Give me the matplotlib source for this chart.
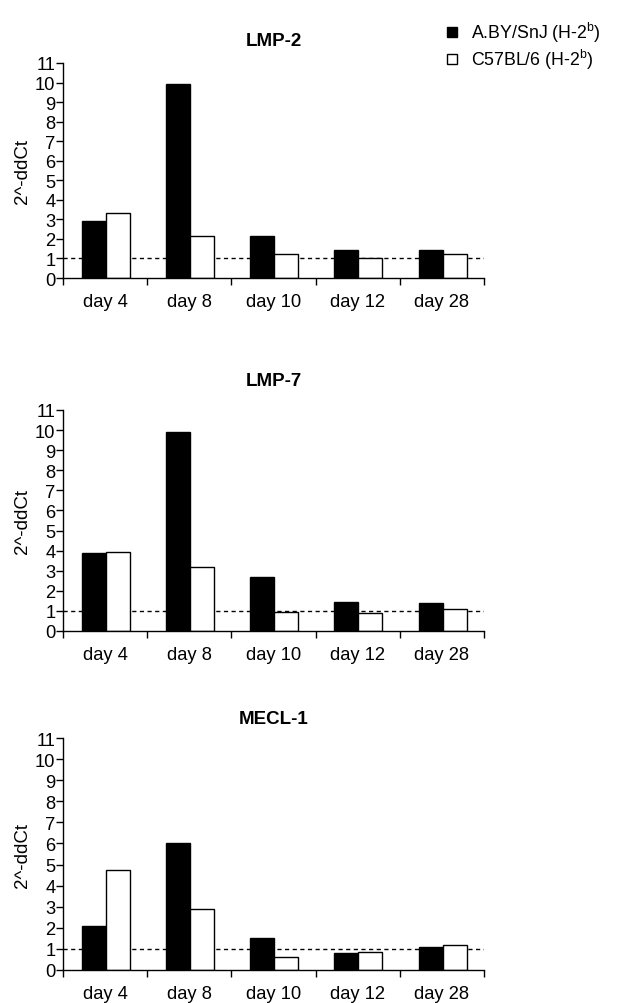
import matplotlib
matplotlib.use("Agg")
import matplotlib.pyplot as plt
from matplotlib.lines import Line2D
import numpy as np

plt.rcParams['font.family'] = ['Liberation Sans', 'DejaVu Sans']

days = ["day 4", "day 8", "day 10", "day 12", "day 28"]
titles = ["LMP-2", "LMP-7", "MECL-1"]
series_names = ["A.BY/SnJ (H-2$^{\\mathrm{b}}$)", "C57BL/6 (H-2$^{\\mathrm{b}}$)"]
series_colors = ["black", "white"]

lmp2_aby = [2.92, 9.95, 2.15, 1.45, 1.45]
lmp2_c57 = [3.32, 2.15, 1.25, 1.03, 1.25]
lmp7_aby = [3.86, 9.92, 2.70, 1.46, 1.41]
lmp7_c57 = [3.93, 3.20, 0.93, 0.88, 1.11]
mecl_aby = [2.07, 6.00, 1.53, 0.81, 1.11]
mecl_c57 = [4.73, 2.91, 0.60, 0.85, 1.17]

panels = [(lmp2_aby, lmp2_c57), (lmp7_aby, lmp7_c57), (mecl_aby, mecl_c57)]
yticks = list(range(0, 12))

W, H = 617, 1004
fig = plt.figure(figsize=(W / 100, H / 100), dpi=100)
plt.rcParams['mathtext.fontset'] = 'custom'
plt.rcParams['mathtext.rm'] = 'Liberation Sans'

# axes pixel boxes: (left, top, right, bottom) and title y (px)
boxes = [(63, 64, 484, 279), (63, 411, 484, 632), (63, 739, 484, 971)]
title_y = [42, 381, 719]

FS = 13.2
x = np.arange(len(days))
bw = 0.285
for (aby, c57), title, (l, t, r, b), ty in zip(panels, titles, boxes, title_y):
    ax = fig.add_axes([l / W, 1 - b / H, (r - l) / W, (b - t) / H])
    ax.axhline(1, color='black', linestyle=(0, (3, 2.5)), linewidth=1.0, zorder=1)
    ax.bar(x + 0.365, aby, width=bw, color=series_colors[0], edgecolor='black', linewidth=1.0, zorder=2)
    ax.bar(x + 0.65, c57, width=bw, color=series_colors[1], edgecolor='black', linewidth=1.0, zorder=2)
    ax.set_xlim(0, len(days))
    ax.set_ylim(0, 11)
    ax.set_yticks(yticks)
    ax.set_yticklabels([str(v) for v in yticks], fontsize=FS)
    ax.set_xticks(np.arange(len(days) + 1))
    ax.set_xticklabels([])
    ax.set_xticks(x + 0.5, minor=True)
    ax.set_xticklabels(days, minor=True, fontsize=FS)
    ax.tick_params(axis='x', which='minor', length=0, pad=11)
    ax.tick_params(axis='x', which='major', length=5, width=1, direction='out')
    ax.tick_params(axis='y', length=5, width=1, direction='out', pad=0.5)
    for s in ['top', 'right']:
        ax.spines[s].set_visible(False)
    for s in ['left', 'bottom']:
        ax.spines[s].set_linewidth(1.0)
    ax.set_ylabel("2^-ddCt", fontsize=FS + 0.3)
    ax.yaxis.set_label_coords(-0.077, 0.5)
    fig.text((l + r) / 2 / W, 1 - ty / H, title, fontsize=13.5, fontweight='bold',
             ha='center', va='center')

# legend (manual placement)
leg_rows = [33, 60]
for name, col, ry in zip(series_names, series_colors, leg_rows):
    fig.add_artist(Line2D([452 / W], [1 - ry / H], transform=fig.transFigure, marker='s',
                          markersize=7.5, markerfacecolor=col, markeredgecolor='black',
                          markeredgewidth=1.0, linestyle='none'))
    fig.text(471 / W, 1 - ry / H, name, fontsize=12.8, ha='left', va='center')

fig.savefig("out.png", dpi=100, facecolor='white')
